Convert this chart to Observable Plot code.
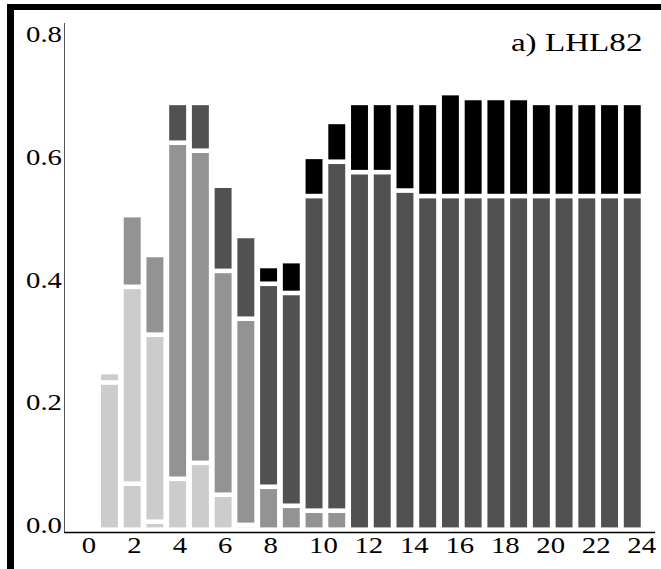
<!DOCTYPE html>
<html><head><meta charset="utf-8">
<script src="https://cdn.jsdelivr.net/npm/d3@7"></script>
<script src="https://cdn.jsdelivr.net/npm/@observablehq/plot@0.6"></script>
<style>
html,body{margin:0;padding:0;background:#fff;}
#wrap{position:relative;width:661px;height:569px;overflow:hidden;background:#fff;}
#chart{position:absolute;left:0;top:0;}
#frame{position:absolute;left:7px;top:4px;right:0;bottom:0;border-top:6px solid #000;border-left:7px solid #000;pointer-events:none;}
</style></head><body>
<div id="wrap"><div id="chart"></div><div id="frame"></div></div>
<script>
// ---- data ----
const steps = [1,2,3,4,5,6,7,8,9,10,11,12,13,14,15,16,17,18,19,20,21,22,23,24];
// colour class of each stacked segment, bottom to top
const segGroups = [
  ["L","L"], ["L","L","M"], ["L","L","M"], ["L","M","D"], ["L","M","D"],
  ["L","M","D"], ["L","M","D"], ["M","D","K"], ["M","D","K"], ["M","D","K"],
  ["M","D","K"], ["D","K"], ["D","K"], ["D","K"], ["D","K"], ["D","K"],
  ["D","K"], ["D","K"], ["D","K"], ["D","K"], ["D","K"], ["D","K"], ["D","K"], ["D","K"]
];
// cumulative value at the top of each segment
const segTops = [
  [0.240, 0.257], [0.075, 0.396, 0.513], [0.013, 0.318, 0.448], [0.083, 0.631, 0.696], [0.109, 0.618, 0.696],
  [0.057, 0.422, 0.561], [0.0078, 0.344, 0.479], [0.070, 0.401, 0.430], [0.039, 0.386, 0.438], [0.031, 0.544, 0.608],
  [0.031, 0.600, 0.665], [0.583, 0.696], [0.583, 0.696], [0.553, 0.696], [0.544, 0.696], [0.544, 0.712],
  [0.544, 0.704], [0.544, 0.704], [0.544, 0.704], [0.544, 0.696], [0.544, 0.696], [0.544, 0.696], [0.544, 0.696], [0.544, 0.696]
];
const groupNames = ["L","M","D","K"];
const groupColors = ["#cccccc","#939393","#515151","#000000"];
const xTicks = [0,2,4,6,8,10,12,14,16,18,20,22,24];
const yTicks = [0, 0.2, 0.4, 0.6, 0.8];
const title = "a) LHL82";

// ---- build segment table ----
const segments = [];
steps.forEach((s, i) => {
  let prev = 0;
  segTops[i].forEach((top, j) => {
    segments.push({step: s, group: segGroups[i][j], y1: prev, y2: top});
    prev = top;
  });
});

const font = "Liberation Serif";
const chart = Plot.plot({
  width: 661,
  height: 569,
  marginTop: 23,
  marginBottom: 37,
  marginLeft: 64,
  marginRight: 6,
  style: {fontFamily: font, background: "transparent", color: "#000"},
  x: {domain: [-1, 25], axis: null},
  y: {domain: [0, 0.83], axis: null},
  color: {domain: groupNames, range: groupColors},
  marks: [
    Plot.rect(segments, {
      x1: d => d.step - 0.5, x2: d => d.step + 0.5,
      y1: "y1", y2: "y2", fill: "group",
      insetLeft: 2.9, insetRight: 2.9, insetBottom: 4.6
    }),
    Plot.ruleX([-1], {stroke: "#555", strokeWidth: 1}),
    Plot.ruleY([0], {stroke: "#000", strokeWidth: 1.3}),
    Plot.text(yTicks, {y: d => d, frameAnchor: "left", text: d => d.toFixed(1),
      textAnchor: "end", lineAnchor: "middle", dx: -2.5, dy: -7, fontSize: 23, fontFamily: font, fill: "#000"}),
    Plot.text(xTicks, {x: d => d, frameAnchor: "bottom", text: d => String(d),
      textAnchor: "start", lineAnchor: "top", dx: -5.5, dy: 4.2, fontSize: 23, fontFamily: font, fill: "#000"}),
    Plot.text([title], {frameAnchor: "top-right", textAnchor: "end", lineAnchor: "middle",
      dx: -13, dy: 19, fontSize: 25.5, fontFamily: font, fill: "#000", className: "panel-title"})
  ]
});
// the reference figure is horizontally stretched; widen the glyphs to match
chart.querySelectorAll("text").forEach(t => {
  const isTitle = t.closest(".panel-title") !== null;
  const sx = isTitle ? 1.3 : 1.25;
  const xa = t.getAttribute("x");
  let tr = t.getAttribute("transform") || "";
  if (xa !== null && !isNaN(parseFloat(xa))) {
    tr = `${tr} translate(${parseFloat(xa)},0)`;
    t.removeAttribute("x");
  }
  t.setAttribute("transform", `${tr} scale(${sx},1)`);
});
document.getElementById("chart").appendChild(chart);
</script>
</body></html>
